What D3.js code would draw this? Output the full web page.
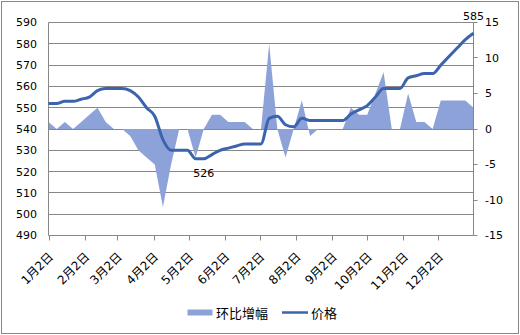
<!DOCTYPE html>
<html>
<head>
<meta charset="utf-8">
<script src="https://cdn.jsdelivr.net/npm/d3@7"></script>
<style>
  body { margin: 0; background: #fff; }
  svg { display: block; }
  .num { font-family: "DejaVu Sans", Verdana, sans-serif; font-size: 11px; fill: #000; }
  .cjk { font-family: "DejaVu Sans", "Noto Sans CJK SC", sans-serif; font-size: 12px; fill: #000; }
</style>
</head>
<body>
<svg id="chart" width="520" height="335"></svg>
<script>
// weekly dates
const dates = [
  "2013-01-02","2013-01-09","2013-01-16","2013-01-23","2013-01-30",
  "2013-02-06","2013-02-13","2013-02-20","2013-02-27",
  "2013-03-06","2013-03-13","2013-03-20","2013-03-27",
  "2013-04-03","2013-04-10","2013-04-17","2013-04-24",
  "2013-05-01","2013-05-08","2013-05-15","2013-05-22","2013-05-29",
  "2013-06-05","2013-06-12","2013-06-19","2013-06-26",
  "2013-07-03","2013-07-10","2013-07-17","2013-07-24","2013-07-31",
  "2013-08-07","2013-08-14","2013-08-21","2013-08-28",
  "2013-09-04","2013-09-11","2013-09-18","2013-09-25",
  "2013-10-02","2013-10-09","2013-10-16","2013-10-23","2013-10-30",
  "2013-11-06","2013-11-13","2013-11-20","2013-11-27",
  "2013-12-04","2013-12-11","2013-12-18","2013-12-25","2014-01-01"
];
// 价格 (left axis)
const price = [552,552,553,553,554,555,558,559,559,559,
               558,555,550,546,535,530,530,530,526,526,
               528,530,531,532,533,533,533,545,546,542,
               541,545,544,544,544,544,544,547,549,551,
               555,559,559,559,564,565,566,566,570,574,
               578,582,585];
// 环比增幅 (right axis)
const change = [1,0,1,0,1,2,3,1,0,0,
                -1,-3,-4,-5,-11,-5,0,0,-4,0,
                2,2,1,1,1,0,0,12,0,-4,
                0,4,-1,0,0,0,0,3,2,2,
                5,8,0,0,5,1,1,0,4,4,
                4,4,3];
const monthTicks = ["2013-01-02","2013-02-02","2013-03-02","2013-04-02","2013-05-02","2013-06-02",
                    "2013-07-02","2013-08-02","2013-09-02","2013-10-02","2013-11-02","2013-12-02"];
const monthLabels = ["1月2日","2月2日","3月2日","4月2日","5月2日","6月2日",
                     "7月2日","8月2日","9月2日","10月2日","11月2日","12月2日"];
const leftTicks = [490,500,510,520,530,540,550,560,570,580,590];
const rightTicks = [-15,-10,-5,0,5,10,15];
const seriesNames = ["环比增幅","价格"];
const labelled = [{i: 19, pos: "below"}, {i: 52, pos: "above"}];

const parse = d3.timeParse("%Y-%m-%d");
const days = dates.map(parse);

const svg = d3.select("#chart");
const W = 520, H = 335;
const plot = {left: 48.5, right: 473.5, top: 22.5, bottom: 235.5};
const AREA_COLOR = "#8ea2da", LINE_COLOR = "#3c63ae", GRID = "#878787";

svg.append("rect")
    .attr("x", 1.5).attr("y", 1.5)
    .attr("width", W - 3).attr("height", H - 3)
    .attr("fill", "#fff")
    .attr("stroke", GRID);

const x = d3.scaleTime()
    .domain([days[0], days[days.length - 1]])
    .range([plot.left, plot.right]);
const yL = d3.scaleLinear().domain([490, 590]).range([plot.bottom, plot.top]);
const yR = d3.scaleLinear().domain([-15, 15]).range([plot.bottom, plot.top]);
const crisp = v => Math.round(v - 0.5) + 0.5;

// gridlines
svg.append("g").selectAll("line")
  .data(leftTicks.slice(1))
  .enter().append("line")
    .attr("x1", plot.left).attr("x2", plot.right)
    .attr("y1", d => crisp(yL(d))).attr("y2", d => crisp(yL(d)))
    .attr("stroke", GRID);

// left labels
svg.append("g").selectAll("text")
  .data(leftTicks)
  .enter().append("text")
    .attr("class", "num")
    .attr("x", 37)
    .attr("y", d => yL(d))
    .attr("dy", "0.36em")
    .attr("text-anchor", "end")
    .text(d => d);

// area
const area = d3.area()
    .x((d, i) => x(days[i]))
    .y0(yR(0))
    .y1(d => yR(d));
svg.append("path")
    .datum(change)
    .attr("fill", AREA_COLOR)
    .attr("d", area);

// axes lines
svg.append("line").attr("x1", plot.left).attr("x2", plot.left)
    .attr("y1", plot.top).attr("y2", plot.bottom).attr("stroke", GRID);
svg.append("line").attr("x1", plot.right).attr("x2", plot.right)
    .attr("y1", plot.top).attr("y2", plot.bottom).attr("stroke", GRID);

// right axis ticks + labels
const rAxis = svg.append("g");
rAxis.selectAll("line")
  .data(rightTicks)
  .enter().append("line")
    .attr("x1", plot.right).attr("x2", plot.right + 4)
    .attr("y1", d => crisp(yR(d))).attr("y2", d => crisp(yR(d)))
    .attr("stroke", GRID);
rAxis.selectAll("text")
  .data(rightTicks)
  .enter().append("text")
    .attr("class", "num")
    .attr("x", 485)
    .attr("y", d => yR(d))
    .attr("dy", "0.36em")
    .text(d => d);

// bottom axis
const tickDates = monthTicks.map(parse);
const xAxis = svg.append("g")
    .attr("transform", `translate(0,${plot.bottom})`)
    .call(d3.axisBottom(x)
      .tickValues(tickDates)
      .tickSize(5)
      .tickFormat((d, i) => monthLabels[i]));
xAxis.select(".domain").attr("stroke", GRID).attr("d", `M${plot.left},0H${plot.right}`);
xAxis.selectAll(".tick line").attr("stroke", GRID)
    .attr("transform", function () {
      const t = d3.select(this.parentNode).attr("transform");
      const tx = +t.match(/translate\(([-\d.]+)/)[1];
      return `translate(${crisp(tx) - tx},0)`;
    });
xAxis.selectAll(".tick text")
    .attr("class", "cjk")
    .attr("font-size", null).attr("font-family", null)
    .attr("text-anchor", "end")
    .attr("y", 0).attr("dy", "0.35em")
    .attr("transform", "translate(2,19) rotate(-45)");
xAxis.attr("font-family", null).attr("font-size", null);

// price line
const line = d3.line()
    .x((d, i) => x(days[i]))
    .y(d => yL(d))
    .curve(d3.curveMonotoneX);
svg.append("path")
    .datum(price)
    .attr("fill", "none")
    .attr("stroke", LINE_COLOR)
    .attr("stroke-width", 3)
    .attr("stroke-linejoin", "round")
    .attr("d", line);

// data labels
svg.append("g").selectAll("text")
  .data(labelled)
  .enter().append("text")
    .attr("class", "num")
    .attr("x", d => x(days[d.i]))
    .attr("y", d => d.pos === "below" ? yL(price[d.i]) + 18 : yL(price[d.i]) - 13)
    .attr("text-anchor", "middle")
    .text(d => price[d.i]);

// legend
const lg = svg.append("g");
lg.append("rect")
    .attr("x", 187.5).attr("y", 309.5)
    .attr("width", 25).attr("height", 6)
    .attr("fill", AREA_COLOR);
lg.append("text").attr("class", "cjk").style("font-size", "13px")
    .attr("x", 216).attr("y", 313).attr("dy", "0.35em")
    .text(seriesNames[0]);
lg.append("line")
    .attr("x1", 282).attr("x2", 308)
    .attr("y1", 312.5).attr("y2", 312.5)
    .attr("stroke", LINE_COLOR).attr("stroke-width", 2.5);
lg.append("text").attr("class", "cjk").style("font-size", "13px")
    .attr("x", 311).attr("y", 313).attr("dy", "0.35em")
    .text(seriesNames[1]);
</script>
</body>
</html>
